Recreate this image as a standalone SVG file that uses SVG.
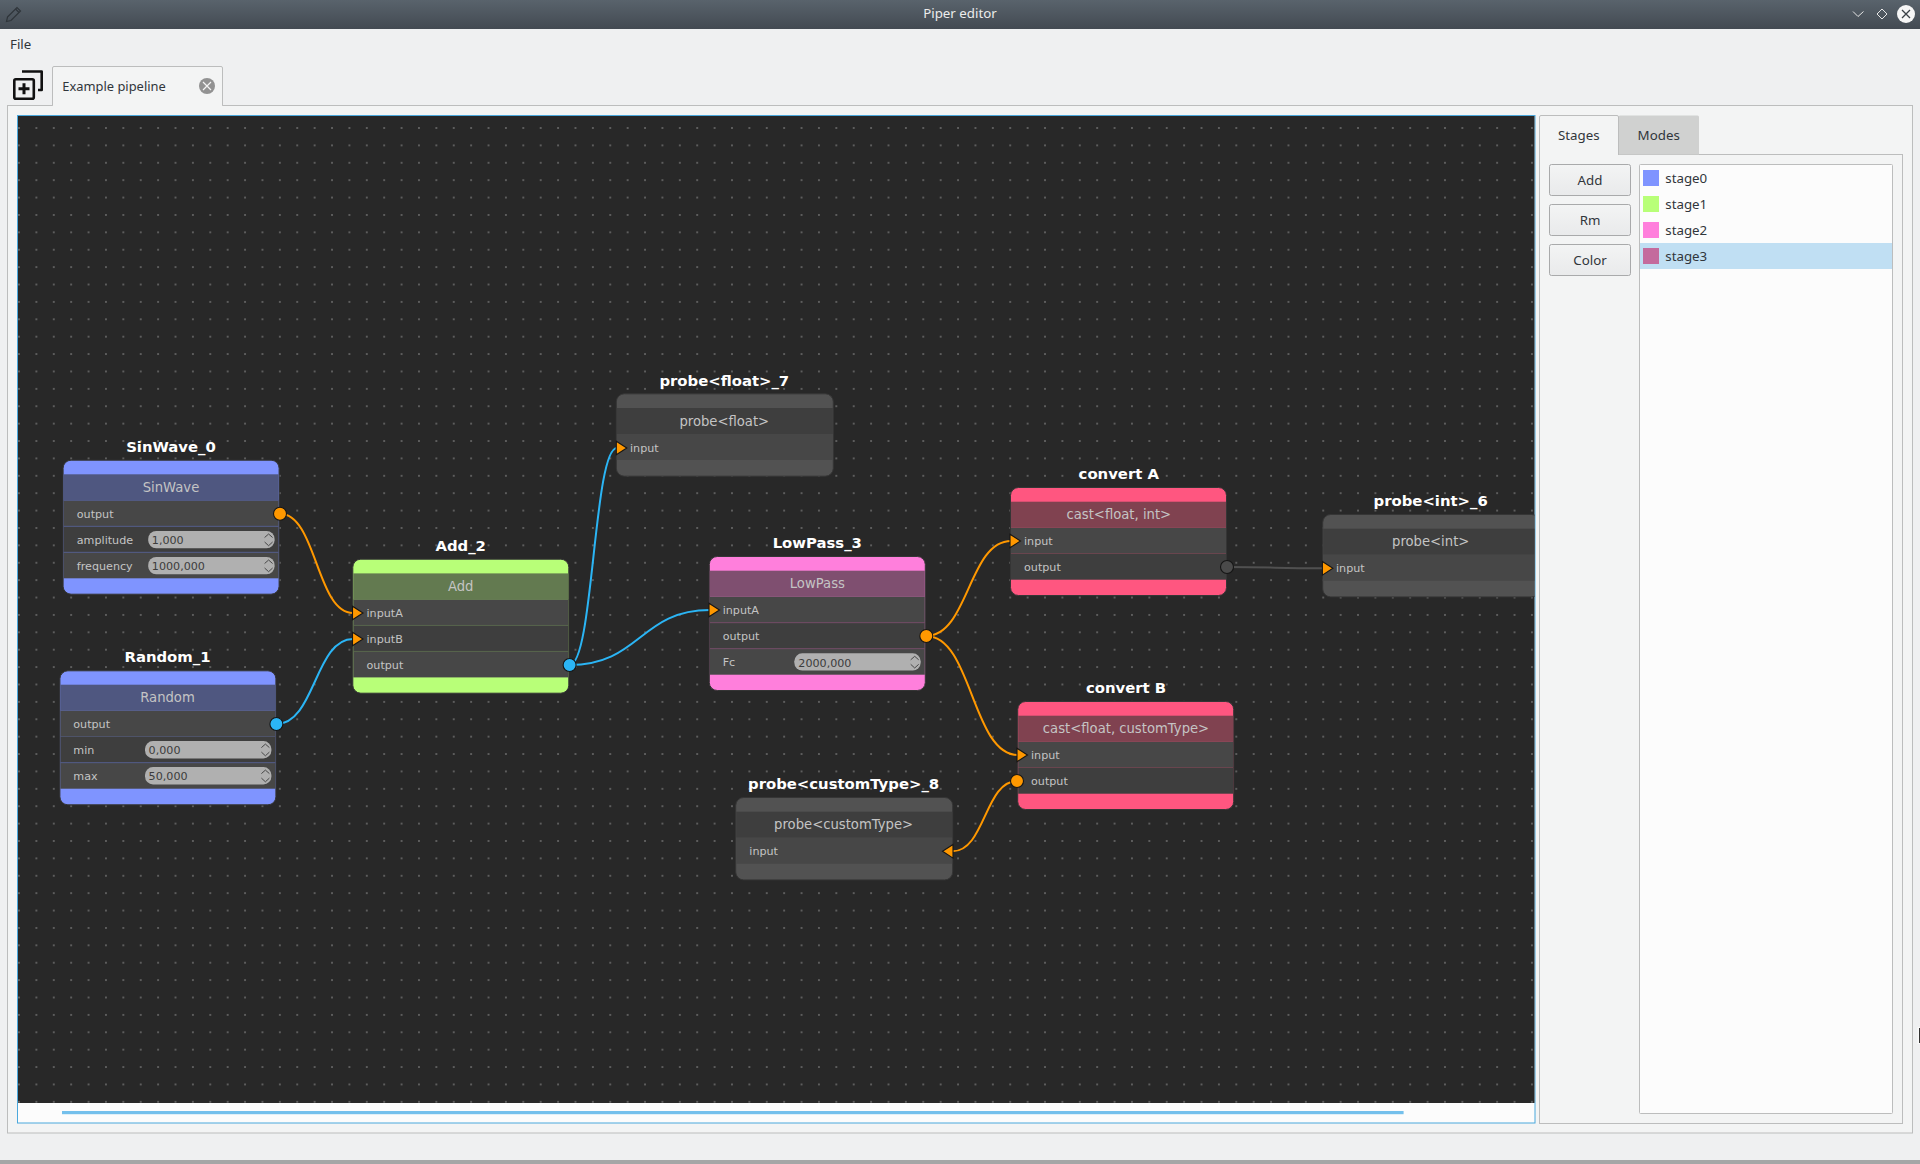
<svg xmlns="http://www.w3.org/2000/svg" width="1920" height="1164" viewBox="0 0 1920 1164">
<style>
.ui{font-family:"Noto Sans","Liberation Sans",sans-serif;font-size:13.3px;fill:#31363b}
.mid{text-anchor:middle}
.title{font-family:"DejaVu Sans",sans-serif;font-weight:bold;font-size:14.85px;fill:#fff;text-anchor:middle}
.head{font-family:"DejaVu Sans",sans-serif;font-size:13.2px;fill:#c4c4c4;text-anchor:middle}
.lab{font-family:"DejaVu Sans",sans-serif;font-size:11.15px;fill:#c4c4c4}
.val{font-family:"DejaVu Sans",sans-serif;font-size:11.15px;fill:#3c3c3c}
.spin{fill:#b0b0b0}
.r1{fill:#474747}
.r2{fill:#3e3e3e}
.edge{fill:none;stroke-width:2}
.o{stroke:#ff9800}
.b{stroke:#2bb5f5}
.g{stroke:#505050}
.po{fill:#ff9800;stroke:#151515;stroke-width:1.1}
.pb{fill:#2bb5f5;stroke:#151515;stroke-width:1.1}
.pg{fill:#4a4a4a;stroke:#151515;stroke-width:1.1}
.frame{fill:#f3f4f4;stroke:#bcbdbd;stroke-width:1}
.btn{fill:url(#btnG);stroke:#a9aaab;stroke-width:1}
.chev{fill:none;stroke:#e6e6e6;stroke-width:1}
.nb{stroke:#353535;stroke-width:1}
</style>
<defs>
<linearGradient id="bar" x1="0" y1="0" x2="0" y2="1"><stop offset="0" stop-color="#59636c"/><stop offset="1" stop-color="#434a52"/></linearGradient>
<linearGradient id="btnG" x1="0" y1="0" x2="0" y2="1"><stop offset="0" stop-color="#f3f4f4"/><stop offset="1" stop-color="#e9eaeb"/></linearGradient>
<pattern id="dots" x="19" y="128" width="17.39" height="17.39" patternUnits="userSpaceOnUse"><rect x="-0.9" y="-0.9" width="1.8" height="1.8" fill="#666"/><rect x="16.49" y="-0.9" width="1.8" height="1.8" fill="#666"/><rect x="-0.9" y="16.49" width="1.8" height="1.8" fill="#666"/><rect x="16.49" y="16.49" width="1.8" height="1.8" fill="#666"/></pattern>
<clipPath id="canvasClip"><rect x="18" y="116" width="1516.5" height="987"/></clipPath>
<path id="tri" d="M0,-6.8 L10.5,0 L0,6.8 Z"/>
<g id="arrows" fill="none" stroke="#3c3c3c" stroke-width="0.9"><path d="M-4,6.5 L0,3 L4,6.5"/><path d="M-4,11 L0,14.7 L4,11"/></g>
</defs>

<rect width="1920" height="1164" fill="#eff0f1"/>
<rect y="1160" width="1920" height="4" fill="#a5a6a6"/>

<g id="titlebar">
<rect width="1920" height="29" fill="url(#bar)"/>
<g fill="none" stroke="#2f353a" stroke-width="1.2"><path d="M7.5,17 L17,7.5 L20.5,11 L11,20.5 L6.5,21.5 Z"/><path d="M15.5,9 L19,12.5"/></g>
<text class="ui mid" x="960" y="18" style="fill:#ececec">Piper editor</text>
<path class="chev" d="M1853,11.5 L1858,16.5 L1863.5,11.5"/>
<path class="chev" d="M1882,9 L1887,14 L1882,19 L1877,14 Z"/>
<circle cx="1906" cy="14" r="9" fill="#f6f6f6"/>
<path d="M1902,10 L1910,18 M1910,10 L1902,18" stroke="#3a4046" stroke-width="1.3" fill="none"/>
</g>

<text class="ui" x="10" y="48.7">File</text>

<g id="newTab" fill="none" stroke="#111" stroke-width="2.6" stroke-linejoin="round">
<rect x="14.3" y="79.3" width="19.5" height="19.5" rx="1.5"/>
<path d="M22,71.5 L41.7,71.5 L41.7,90 L38,90"/>
<path stroke-width="3" d="M24,83.2 L24,94.2 M18.5,88.7 L29.5,88.7"/>
</g>

<rect class="frame" x="7.5" y="105.5" width="1905" height="1027.5"/>
<path class="frame" d="M52.5,105.5 L52.5,68 Q52.5,66.5 54,66.5 L221,66.5 Q222.5,66.5 222.5,68 L222.5,105.5"/>
<rect x="53" y="104" width="169" height="3" fill="#f3f4f4"/>
<text class="ui" x="62.3" y="90.7" style="font-size:12.9px">Example pipeline</text>
<circle cx="207" cy="86" r="8" fill="#929292"/>
<path d="M203,82 L211,90 M211,82 L203,90" stroke="#f4f4f4" stroke-width="1.2" fill="none"/>

<rect x="17.5" y="115.5" width="1517.5" height="1007.5" fill="#fcfcfc" stroke="#4ba8dc" stroke-width="1"/>
<rect x="18" y="116" width="1516.5" height="987" fill="#282828"/>
<rect x="18" y="116" width="1516.5" height="987" fill="url(#dots)"/>
<rect x="62" y="1111" width="1341.6" height="3.2" fill="#74c0ec"/>

<g clip-path="url(#canvasClip)">
<g id="connectors">
<path class="edge o" d="M280,513.7 C316.5,513.7 316.5,613 353,613"/>
<path class="edge b" d="M276.4,724 C315,724 315,639 353,639"/>
<path class="edge b" d="M569.6,665 C593.5,665 593.5,448 617,448"/>
<path class="edge b" d="M569.6,665 C640,665 640,610 710,610"/>
<path class="edge o" d="M926.3,636 C968.5,636 968.5,541 1011,541"/>
<path class="edge o" d="M926.3,636 C972,636 972,755 1018,755"/>
<path class="edge g" d="M1227,567 C1275,567 1275,568.3 1323,568.3"/>
<path class="edge o" d="M1017,781 C985,781 985,851.3 952.5,851.3"/>
</g>

<g id="SinWave_0">
<text class="title" x="171" y="451.7">SinWave_0</text>
<rect class="nb" x="63.1" y="460.2" width="216" height="134" rx="8" fill="#7f94ff"/>
<rect x="63.6" y="474.3" width="215" height="26" fill="#4f5780"/>
<rect class="r1" x="63.6" y="500.3" width="215" height="26"/>
<rect class="r2" x="63.6" y="526.3" width="215" height="26"/>
<rect class="r1" x="63.6" y="552.3" width="215" height="26"/>
<path d="M63.6,526.3 H278.6 M63.6,552.3 H278.6 M63.6,500.3 H278.6" stroke="#525a85" fill="none"/>
<text class="head" x="171" y="492">SinWave</text>
<text class="lab" x="76.8" y="517.7">output</text>
<text class="lab" x="76.8" y="543.7">amplitude</text>
<text class="lab" x="76.8" y="569.7">frequency</text>
<rect class="spin" x="148.2" y="531" width="126.4" height="17.3" rx="8"/>
<text class="val" x="151.8" y="543.7">1,000</text>
<use href="#arrows" x="268.6" y="531"/>
<rect class="spin" x="148.2" y="557" width="126.4" height="17.3" rx="8"/>
<text class="val" x="151.8" y="569.7">1000,000</text>
<use href="#arrows" x="268.6" y="557"/>
<circle class="po" cx="280" cy="513.7" r="6.5"/>
</g>

<g id="Random_1">
<text class="title" x="167.5" y="662.3">Random_1</text>
<rect class="nb" x="59.9" y="670.8" width="216" height="134" rx="8" fill="#7f94ff"/>
<rect x="60.4" y="684.7" width="215" height="26" fill="#4f5780"/>
<rect class="r1" x="60.4" y="710.7" width="215" height="26"/>
<rect class="r2" x="60.4" y="736.7" width="215" height="26"/>
<rect class="r1" x="60.4" y="762.7" width="215" height="26"/>
<path d="M60.4,762.7 H275.4" stroke="#525a85" fill="none"/>
<text class="head" x="167.5" y="701.9">Random</text>
<text class="lab" x="73.3" y="727.8">output</text>
<text class="lab" x="73.3" y="753.8">min</text>
<text class="lab" x="73.3" y="779.8">max</text>
<rect class="spin" x="145" y="741.1" width="126.4" height="17.3" rx="8"/>
<text class="val" x="148.6" y="754">0,000</text>
<use href="#arrows" x="265.4" y="741.1"/>
<rect class="spin" x="145" y="767.1" width="126.4" height="17.3" rx="8"/>
<text class="val" x="148.6" y="780">50,000</text>
<use href="#arrows" x="265.4" y="767.1"/>
<circle class="pb" cx="276.4" cy="724" r="6.5"/>
</g>

<g id="Add_2">
<text class="title" x="460.7" y="551">Add_2</text>
<rect class="nb" x="352.8" y="559.2" width="216" height="134" rx="8" fill="#b8ff78"/>
<rect x="353.3" y="573.4" width="215" height="26" fill="#637a50"/>
<rect class="r1" x="353.3" y="599.4" width="215" height="26"/>
<rect class="r2" x="353.3" y="625.4" width="215" height="26"/>
<rect class="r1" x="353.3" y="651.4" width="215" height="26"/>
<path d="M353.3,625.4 H568.3 M353.3,651.4 H568.3" stroke="#56624c" fill="none"/>
<text class="head" x="460.7" y="591">Add</text>
<text class="lab" x="366.5" y="617">inputA</text>
<text class="lab" x="366.5" y="643">inputB</text>
<text class="lab" x="366.5" y="669">output</text>
<use class="po" href="#tri" x="352.5" y="613"/>
<use class="po" href="#tri" x="352.5" y="639"/>
<circle class="pb" cx="569.6" cy="665" r="6.5"/>
</g>

<g id="LowPass_3">
<text class="title" x="817.3" y="548.3">LowPass_3</text>
<rect class="nb" x="709.3" y="556.5" width="216" height="134" rx="8" fill="#ff7fdc"/>
<rect x="709.8" y="570.7" width="215" height="26" fill="#7f4f70"/>
<rect class="r1" x="709.8" y="596.7" width="215" height="26"/>
<rect class="r2" x="709.8" y="622.7" width="215" height="26"/>
<rect class="r1" x="709.8" y="648.7" width="215" height="26"/>
<path d="M709.8,622.7 H924.8 M709.8,648.7 H924.8" stroke="#6d4a62" fill="none"/>
<text class="head" x="817.3" y="587.7">LowPass</text>
<text class="lab" x="722.7" y="614">inputA</text>
<text class="lab" x="722.7" y="640">output</text>
<text class="lab" x="722.7" y="666">Fc</text>
<rect class="spin" x="794.3" y="653.3" width="126.4" height="17.3" rx="8"/>
<text class="val" x="798.3" y="666.5">2000,000</text>
<use href="#arrows" x="914.7" y="653.3"/>
<use class="po" href="#tri" x="709" y="610"/>
<circle class="po" cx="926.3" cy="636" r="6.5"/>
</g>

<g id="probe_float_7">
<text class="title" x="724.3" y="386">probe&lt;float&gt;_7</text>
<rect class="nb" x="616.3" y="393.8" width="217" height="82.4" rx="8" fill="#525252"/>
<rect x="616.8" y="408" width="216" height="26" fill="#3e3e3e"/>
<rect class="r1" x="616.8" y="434" width="216" height="26"/>
<text class="head" x="724.3" y="426">probe&lt;float&gt;</text>
<text class="lab" x="630" y="451.7">input</text>
<use class="po" href="#tri" x="616.3" y="448"/>
</g>

<g id="convert_A">
<text class="title" x="1118.8" y="479">convert A</text>
<rect class="nb" x="1010.5" y="487.5" width="216" height="108" rx="8" fill="#ff5680"/>
<rect x="1011" y="501.7" width="215" height="26" fill="#804250"/>
<rect class="r1" x="1011" y="527.7" width="215" height="26"/>
<rect class="r2" x="1011" y="553.7" width="215" height="26"/>
<text class="head" x="1118.8" y="519.3">cast&lt;float, int&gt;</text>
<text class="lab" x="1024" y="545">input</text>
<text class="lab" x="1024" y="571">output</text>
<use class="po" href="#tri" x="1010" y="541"/>
<circle class="pg" cx="1227" cy="567" r="6.5"/>
</g>

<g id="probe_int_6">
<text class="title" x="1430.7" y="505.7">probe&lt;int&gt;_6</text>
<rect class="nb" x="1322.7" y="514.5" width="217" height="82.4" rx="8" fill="#525252"/>
<rect x="1323.2" y="528.7" width="216" height="26" fill="#3e3e3e"/>
<rect class="r1" x="1323.2" y="554.7" width="216" height="26"/>
<text class="head" x="1430.7" y="545.9">probe&lt;int&gt;</text>
<text class="lab" x="1336" y="572.3">input</text>
<use class="po" href="#tri" x="1322.4" y="568.3"/>
</g>

<g id="convert_B">
<text class="title" x="1126" y="693">convert B</text>
<rect class="nb" x="1017.7" y="701.5" width="216" height="108" rx="8" fill="#ff5680"/>
<rect x="1018.2" y="715.7" width="215" height="26" fill="#804250"/>
<rect class="r1" x="1018.2" y="741.7" width="215" height="26"/>
<rect class="r2" x="1018.2" y="767.7" width="215" height="26"/>
<text class="head" x="1126" y="733.3">cast&lt;float, customType&gt;</text>
<text class="lab" x="1031" y="759">input</text>
<text class="lab" x="1031" y="785">output</text>
<use class="po" href="#tri" x="1017" y="755"/>
<circle class="po" cx="1017" cy="781" r="6.5"/>
</g>

<g id="probe_customType_8">
<text class="title" x="843.6" y="789">probe&lt;customType&gt;_8</text>
<rect class="nb" x="735.7" y="797.5" width="217" height="82.4" rx="8" fill="#525252"/>
<rect x="736.2" y="811.7" width="216" height="26" fill="#3e3e3e"/>
<rect class="r1" x="736.2" y="837.7" width="216" height="26"/>
<text class="head" x="843.6" y="828.9">probe&lt;customType&gt;</text>
<text class="lab" x="749.3" y="855">input</text>
<use class="po" href="#tri" transform="translate(953,851.3) scale(-1,1)"/>
</g>
</g>

<g id="sidebar">
<rect class="frame" x="1539.5" y="154.5" width="363" height="969"/>
<path d="M1618.5,154.5 L1618.5,117 Q1618.5,115.5 1620,115.5 L1697.5,115.5 Q1699,115.5 1699,117 L1699,154.5 Z" fill="#d0d1d0"/>
<path class="frame" d="M1539.5,155 L1539.5,117 Q1539.5,115.5 1541,115.5 L1617,115.5 Q1618.5,115.5 1618.5,117 L1618.5,155"/>
<rect x="1540" y="153" width="78" height="3" fill="#f3f4f4"/>
<text class="ui mid" x="1578.7" y="140">Stages</text>
<text class="ui mid" x="1658.7" y="140">Modes</text>
<rect class="btn" x="1549.5" y="164.5" width="81" height="31" rx="2"/>
<text class="ui mid" x="1590" y="185">Add</text>
<rect class="btn" x="1549.5" y="204.5" width="81" height="31" rx="2"/>
<text class="ui mid" x="1590" y="225">Rm</text>
<rect class="btn" x="1549.5" y="244.5" width="81" height="31" rx="2"/>
<text class="ui mid" x="1590" y="265">Color</text>
<rect x="1639.5" y="164.5" width="253" height="949" rx="1" fill="#fcfcfc" stroke="#bcbdbd"/>
<rect x="1640" y="243" width="252" height="26" fill="#c0dff3"/>
<rect x="1643" y="170" width="16" height="16" fill="#7f94ff"/>
<text class="ui" x="1665.3" y="183.3">stage0</text>
<rect x="1643" y="196" width="16" height="16" fill="#b8ff78"/>
<text class="ui" x="1665.3" y="209.3">stage1</text>
<rect x="1643" y="222" width="16" height="16" fill="#ff7fdc"/>
<text class="ui" x="1665.3" y="235.3">stage2</text>
<rect x="1643" y="248" width="16" height="16" fill="#c46b9d"/>
<text class="ui" x="1665.3" y="261.3">stage3</text>
</g>

<rect x="1917.5" y="1027" width="2.5" height="17" fill="#fafafa"/>
<rect x="1919" y="1028" width="1" height="15" fill="#333"/>
</svg>
